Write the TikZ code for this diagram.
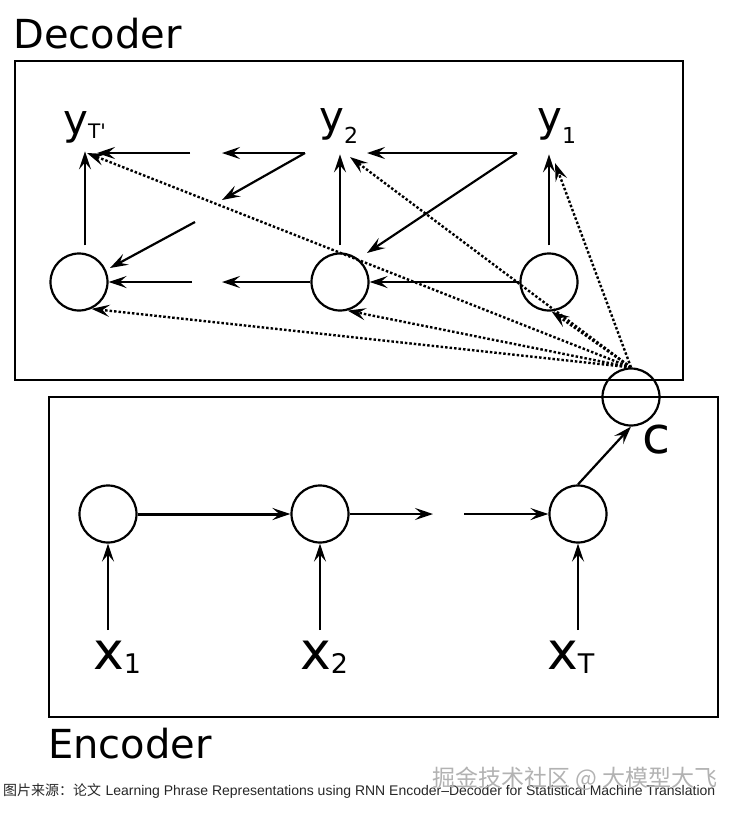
\documentclass[tikz,border=0pt]{standalone}
\usepackage{graphicx}
\usepackage{fontspec}
\setmainfont{DejaVu Sans}[Ligatures=TeXOff]
\newfontfamily\capfont{Liberation Sans}
\newfontfamily\cjk{Noto Sans CJK SC}
\usetikzlibrary{arrows.meta,calc}

% label with a lowered subscript: size, text, sub size, drop, sub text
\newcommand{\lab}[5]{{\fontsize{#1}{#1}\selectfont #2}{\fontsize{#3}{#3}\selectfont\raisebox{-#4pt}{#5}}}

\begin{document}
\begin{tikzpicture}[x=1pt,y=-1pt,
	cell/.style={circle, draw, line width=2.2pt, minimum size=57pt, inner sep=0pt},
	lbl/.style={inner sep=0pt, anchor=base west},
	arr/.style={line width=2.2pt, -{Stealth[length=18pt,width=12pt,inset=7pt]}},
	ctx/.style={arr, line width=2.4pt, dash pattern=on 2.5pt off 2pt},
	box/.style={line width=2.5pt}]
	\useasboundingbox (0,0) rectangle (741,815);

	% boxes
	\draw[box] (15,61) rectangle (683,380);
	\draw[box] (49,397) rectangle (718,717);
	\node[lbl] (dec) at (13,48) {\fontsize{40}{40}\selectfont Decoder};
	\node[lbl] (enc) at (48,758) {\fontsize{40}{40}\selectfont Encoder};

	% decoder
	\node[cell] (d3) at (79,282) {};
	\node[cell] (d2) at (340,282) {};
	\node[cell] (d1) at (549,282) {};
	\node[lbl] (yT) at (63,134) {\lab{42}{y}{20}{4}{T'}};
	\node[lbl] (y2) at (319,131) {\lab{42}{y}{22}{12}{2}};
	\node[lbl] (y1) at (537,131) {\lab{42}{y}{22}{12}{1}};

	% encoder
	\node[cell] (e1) at (108,514) {};
	\node[cell] (e2) at (320,514) {};
	\node[cell] (e3) at (578,514) {};
	\node[cell] (c) at (631,397) {};
	\node[lbl] (cl) at (642,453) {\fontsize{51}{51}\selectfont c};
	\node[lbl] (x1) at (93,669) {\lab{52}{x}{27}{4}{1}};
	\node[lbl] (x2) at (300,669) {\lab{52}{x}{27}{4}{2}};
	\node[lbl] (xT) at (547,669) {\lab{52}{x}{27}{4}{T}};

	% free ends
	\coordinate (o1) at (517,153);
	\coordinate (o2) at (305,153);
	\coordinate (to2) at (367,153);
	\coordinate (tod2) at (367,253);
	\coordinate (g1) at (222,153);
	\coordinate (g2) at (222,200);
	\coordinate (g3) at (222,282);
	\coordinate (h1) at (190,153);
	\coordinate (h2) at (195,222);
	\coordinate (h3) at (192,282);
	\coordinate (toT) at (97,153);
	\coordinate (tod3) at (110,268);
	\coordinate (q1) at (433,514);
	\coordinate (q2) at (464,514);
	\coordinate (i1) at (108,630);
	\coordinate (i2) at (320,630);
	\coordinate (i3) at (578,630);

	% outputs
	\draw[arr] ($(d3.north)+(6,-7)$) -- ($(d3.north)+(6,-101)$);
	\draw[arr] ($(d2.north)+(0,-7)$) -- ($(d2.north)+(0,-98)$);
	\draw[arr] ($(d1.north)+(0,-7)$) -- ($(d1.north)+(0,-98)$);

	% fed back outputs
	\draw[arr] (o1) -- (to2);
	\draw[arr] (o1) -- (tod2);
	\draw[arr] (o2) -- (g1);
	\draw[arr] (o2) -- (g2);
	\draw[arr] (h1) -- (toT);
	\draw[arr] (h2) -- (tod3);

	% hidden states
	\draw[arr] (d1) -- (d2);
	\draw[arr] (d2) -- (g3);
	\draw[arr] (h3) -- (d3);
	\draw[arr, line width=3pt] (e1) -- (e2);
	\draw[arr] (e2) -- (q1);
	\draw[arr] (q2) -- (e3);
	\draw[arr] (e3.north) -- (c.south);
	\draw[arr] (i1) -- (e1);
	\draw[arr] (i2) -- (e2);
	\draw[arr] (i3) -- (e3);

	% context
	\draw[ctx] (c.north) -- (87,153);
	\draw[ctx] (c.north) -- (d3.-65);
	\draw[ctx] (c.north) -- (350,157);
	\draw[ctx] (c.north) -- (d2.-75);
	\draw[ctx] (c.north) -- (555,163);
	\draw[ctx] (c.north) -- (d1.-85);

	% source line
	\node[lbl, text=black!85] (cap) at (3,795) {\resizebox{712pt}{!}{\fontsize{14}{14}\selectfont{\cjk 图片来源：论文} {\capfont Learning Phrase Representations using RNN Encoder–Decoder for Statistical Machine Translation}}};
	\node[text=black!30, inner sep=0pt] (wm) at (575,779) {\fontsize{23}{23}\selectfont\cjk 掘金技术社区 @ 大模型大飞};
\end{tikzpicture}
\end{document}
